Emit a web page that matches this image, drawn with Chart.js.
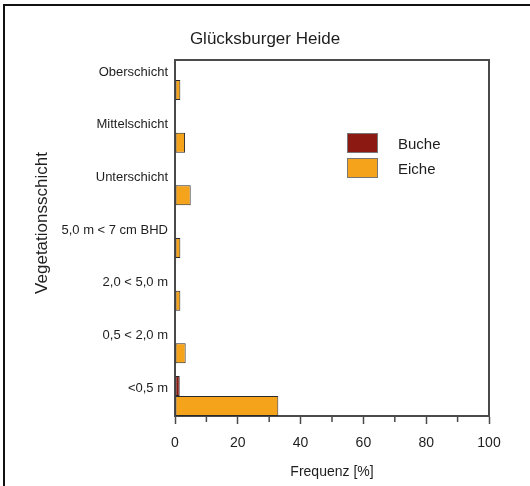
<!DOCTYPE html>
<html>
<head>
<meta charset="utf-8">
<script src="https://cdn.jsdelivr.net/npm/chart.js@4.4.0/dist/chart.umd.min.js"></script>
<style>
  html, body { margin: 0; padding: 0; background: #fff; }
  #wrap { position: absolute; left: 0; top: 0; width: 530px; height: 486px; }
  #frame { position: absolute; left: 3px; top: 4px; width: 527px; height: 482px;
           border-left: 2px solid #111; border-top: 2px solid #111;
           box-sizing: border-box; pointer-events: none; }
</style>
</head>
<body>
<div id="wrap">
  <canvas id="c" width="530" height="486"></canvas>
  <div id="frame"></div>
</div>
<script>
// Frequency of beech and oak per vegetation layer
const chartTitle = 'Glücksburger Heide';
const categories = ['Oberschicht', 'Mittelschicht', 'Unterschicht', '5,0 m < 7 cm BHD',
                    '2,0 < 5,0 m', '0,5 < 2,0 m', '<0,5 m'];
const seriesNames = ['Buche', 'Eiche'];
const buche = [0, 0, 0, 0, 0, 0, 1.5];
const eiche = [1.7, 3.2, 5.0, 1.7, 1.7, 3.4, 32.9];
const seriesColors = ['#8c1a12', '#f5a31b'];
const xTitle = 'Frequenz [%]';
const yTitle = 'Vegetationsschicht';

const FONT = '"Liberation Sans", Arial, Helvetica, sans-serif';
const TEXT = '#1e1e1e';
const AXIS = '#4a4a4a';
Chart.defaults.font.family = FONT;
Chart.defaults.color = TEXT;

const toPoints = arr => arr.map((v, i) => ({ x: v, y: i }));

// Frame, minor ticks, titles and legend drawn around the plot
const decor = {
  id: 'decor',
  afterDraw(chart) {
    const { ctx, chartArea: a } = chart;
    const xs = chart.scales.x;
    ctx.save();
    ctx.strokeStyle = AXIS;
    ctx.lineWidth = 2;
    ctx.beginPath();
    ctx.moveTo(a.left - 1, a.top);
    ctx.lineTo(a.right, a.top);
    ctx.lineTo(a.right, a.bottom + 1);
    ctx.stroke();

    // minor ticks halfway between the labelled ones
    ctx.lineWidth = 1.5;
    ctx.beginPath();
    for (let i = 0; i < xs.ticks.length - 1; i++) {
      const px = xs.getPixelForValue((xs.ticks[i].value + xs.ticks[i + 1].value) / 2);
      ctx.moveTo(px, a.bottom);
      ctx.lineTo(px, a.bottom + 6);
    }
    ctx.stroke();

    ctx.fillStyle = TEXT;
    ctx.textAlign = 'center';
    ctx.textBaseline = 'middle';
    ctx.font = '17px ' + FONT;
    ctx.fillText(chartTitle, 265, 39);

    ctx.save();
    ctx.translate(42, 223);
    ctx.rotate(-Math.PI / 2);
    ctx.font = '17px ' + FONT;
    ctx.fillText(yTitle, 0, 0);
    ctx.restore();

    // legend
    const lx = 347, ly = 133, bw = 31, bh = 20, gap = 25;
    chart.data.datasets.forEach((ds, i) => {
      const y = ly + i * gap;
      ctx.fillStyle = ds.backgroundColor;
      ctx.fillRect(lx, y, bw, bh);
      ctx.strokeStyle = '#777';
      ctx.lineWidth = 1;
      ctx.strokeRect(lx + 0.5, y + 0.5, bw - 1, bh - 1);
      ctx.fillStyle = TEXT;
      ctx.textAlign = 'left';
      ctx.font = '15px ' + FONT;
      ctx.fillText(ds.label, 398, y + bh / 2 + 2);
    });
    ctx.restore();
  }
};

new Chart(document.getElementById('c'), {
  type: 'bar',
  data: {
    datasets: [
      { label: seriesNames[0], data: toPoints(buche), backgroundColor: seriesColors[0] },
      { label: seriesNames[1], data: toPoints(eiche), backgroundColor: seriesColors[1] }
    ].map(d => Object.assign(d, {
      borderColor: '#2a2a2a', borderWidth: 1, borderSkipped: false,
      categoryPercentage: 0.76, barPercentage: 1
    }))
  },
  options: {
    indexAxis: 'y',
    responsive: false,
    animation: false,
    layout: { padding: { top: 60, right: 41, left: 0, bottom: 0 } },
    plugins: { legend: { display: false }, tooltip: { enabled: false }, title: { display: false } },
    scales: {
      x: {
        type: 'linear', min: 0, max: 100,
        afterFit: s => { s.height = 70; },
        border: { display: true, color: AXIS, width: 2 },
        grid: { display: true, drawOnChartArea: false, drawTicks: true, tickLength: 8,
                tickColor: AXIS, tickWidth: 1.5 },
        ticks: { stepSize: 20, autoSkip: false, maxRotation: 0, padding: 11,
                 font: { size: 14 }, color: TEXT },
        title: { display: true, text: xTitle, font: { size: 14 }, color: TEXT,
                 padding: { top: 0, bottom: 5 } }
      },
      y: {
        type: 'linear', reverse: true, min: -0.38, max: 6.38,
        offset: false, bounds: 'data',
        afterBuildTicks: s => { s.ticks = categories.map((_, i) => ({ value: i })); },
        afterFit: s => { s.width = 175; },
        border: { display: true, color: AXIS, width: 2 },
        grid: { display: false, drawTicks: false, offset: false },
        ticks: { autoSkip: false, padding: 7, labelOffset: -8, font: { size: 13 }, color: TEXT,
                 callback: v => categories[v] }
      }
    }
  },
  plugins: [decor]
});
</script>
</body>
</html>
